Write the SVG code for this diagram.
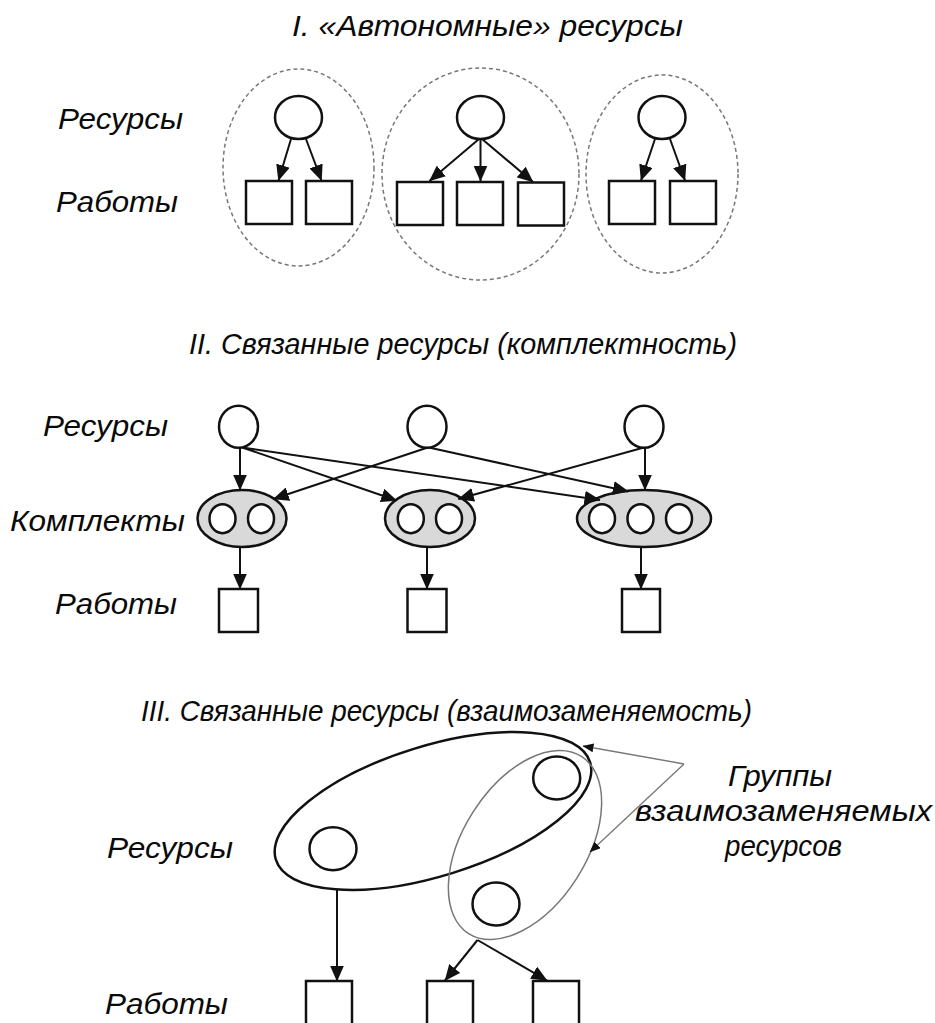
<svg xmlns="http://www.w3.org/2000/svg" width="935" height="1023" viewBox="0 0 935 1023">
<defs>
<marker id="arr" markerUnits="userSpaceOnUse" markerWidth="16" markerHeight="14" viewBox="0 0 16 14" refX="15.5" refY="7" orient="auto"><path d="M0,0 L16,7 L0,14 z" fill="#111"/></marker>
<marker id="arrS" markerUnits="userSpaceOnUse" markerWidth="11" markerHeight="9" viewBox="0 0 11 9" refX="10.5" refY="4.5" orient="auto"><path d="M0,0 L11,4.5 L0,9 z" fill="#111"/></marker>
</defs>
<style>
.t{font-family:"Liberation Sans",Arial,sans-serif;font-style:italic;fill:#0a0a0a;font-size:30px}
.node{fill:#fff;stroke:#111;stroke-width:2.5}
.grp{fill:none;stroke:#777;stroke-width:1.5;stroke-dasharray:4 3}
.kit{fill:#d9d9d9;stroke:#111;stroke-width:2.5}
.big{fill:none;stroke:#111;stroke-width:2.5}
.thin{fill:none;stroke:#777;stroke-width:1.5}
.edge{stroke:#111;stroke-width:2;fill:none;marker-end:url(#arr)}
.note{stroke:#777;stroke-width:1.3;fill:none;marker-end:url(#arrS)}
</style>
<rect x="0" y="0" width="935" height="1023" fill="#fff"/>

<g id="titles">
<text class="t" x="292" y="36" textLength="391" lengthAdjust="spacingAndGlyphs">I. «Автономные» ресурсы</text>
<text class="t" x="189" y="354" textLength="548" lengthAdjust="spacingAndGlyphs">II. Связанные ресурсы (комплектность)</text>
<text class="t" x="141" y="721" textLength="611" lengthAdjust="spacingAndGlyphs">III. Связанные ресурсы (взаимозаменяемость)</text>
</g>

<g id="labels">
<text class="t" x="58" y="129" textLength="125" lengthAdjust="spacingAndGlyphs">Ресурсы</text>
<text class="t" x="56" y="212" textLength="122" lengthAdjust="spacingAndGlyphs">Работы</text>
<text class="t" x="43" y="436" textLength="125" lengthAdjust="spacingAndGlyphs">Ресурсы</text>
<text class="t" x="10" y="531" textLength="175" lengthAdjust="spacingAndGlyphs">Комплекты</text>
<text class="t" x="55" y="614" textLength="122" lengthAdjust="spacingAndGlyphs">Работы</text>
<text class="t" x="107" y="858" textLength="126" lengthAdjust="spacingAndGlyphs">Ресурсы</text>
<text class="t" x="105" y="1014" textLength="123" lengthAdjust="spacingAndGlyphs">Работы</text>
<text class="t" x="728" y="786" textLength="104" lengthAdjust="spacingAndGlyphs">Группы</text>
<text class="t" x="635" y="821" textLength="297" lengthAdjust="spacingAndGlyphs">взаимозаменяемых</text>
<text class="t" x="725" y="856" textLength="117" lengthAdjust="spacingAndGlyphs">ресурсов</text>
</g>

<!-- Section I -->
<g id="group1">
<ellipse class="grp" cx="298.5" cy="167.5" rx="75.5" ry="98.5"/>
<ellipse class="node" cx="298.5" cy="117.5" rx="23.5" ry="21.5"/>
<rect class="node" x="246" y="181" width="46" height="43"/>
<rect class="node" x="306" y="181" width="46" height="43"/>
</g>
<g id="group2">
<ellipse class="grp" cx="480.5" cy="174" rx="98.5" ry="106"/>
<ellipse class="node" cx="480.5" cy="117.5" rx="23.5" ry="21.5"/>
<rect class="node" x="397" y="182" width="46" height="43"/>
<rect class="node" x="457" y="182" width="46" height="43"/>
<rect class="node" x="518" y="182.5" width="46" height="43"/>
</g>
<g id="group3">
<ellipse class="grp" cx="662" cy="174" rx="76" ry="99"/>
<ellipse class="node" cx="662" cy="117.5" rx="23.5" ry="21.5"/>
<rect class="node" x="609" y="181" width="46" height="43"/>
<rect class="node" x="670" y="181" width="46" height="43"/>
</g>

<!-- Section II -->
<g id="res2-1"><ellipse class="node" cx="238.5" cy="426.7" rx="19.5" ry="21"/></g>
<g id="res2-2"><ellipse class="node" cx="427" cy="426.7" rx="19.5" ry="21"/></g>
<g id="res2-3"><ellipse class="node" cx="644" cy="426.7" rx="19.5" ry="21"/></g>
<g id="kit2-1">
<ellipse class="kit" cx="242" cy="518.5" rx="44.5" ry="28.5"/>
<ellipse class="node" cx="222.5" cy="518.7" rx="13" ry="14.5"/>
<ellipse class="node" cx="261" cy="518.7" rx="13" ry="14.5"/>
</g>
<g id="kit2-2">
<ellipse class="kit" cx="430" cy="518.5" rx="45" ry="28.5"/>
<ellipse class="node" cx="410.8" cy="518.7" rx="13" ry="14.5"/>
<ellipse class="node" cx="449" cy="518.7" rx="13" ry="14.5"/>
</g>
<g id="kit2-3">
<ellipse class="kit" cx="644" cy="518.5" rx="67" ry="28.5"/>
<ellipse class="node" cx="602" cy="518.7" rx="13" ry="14.5"/>
<ellipse class="node" cx="640.5" cy="518.7" rx="13" ry="14.5"/>
<ellipse class="node" cx="679" cy="518.7" rx="13" ry="14.5"/>
</g>
<g id="work2-1"><rect class="node" x="219" y="589" width="39" height="43"/></g>
<g id="work2-2"><rect class="node" x="407.5" y="589" width="39" height="43"/></g>
<g id="work2-3"><rect class="node" x="622" y="589" width="38" height="43"/></g>

<!-- Section III -->
<g id="group-big"><ellipse class="big" cx="433" cy="811" rx="164.5" ry="65" transform="rotate(-17.2 433 811)"/></g>
<g id="group-gray"><ellipse class="thin" cx="525" cy="845" rx="105" ry="61.5" transform="rotate(-57.5 525 845)"/></g>
<g id="res3-1"><ellipse class="node" cx="333" cy="848.7" rx="23.5" ry="21.5"/></g>
<g id="res3-2"><ellipse class="node" cx="556.7" cy="778" rx="23.5" ry="21.5"/></g>
<g id="res3-3"><ellipse class="node" cx="496" cy="904" rx="23.5" ry="21.5"/></g>
<g id="work3-1"><rect class="node" x="306" y="981" width="46" height="50"/></g>
<g id="work3-2"><rect class="node" x="427" y="981" width="46" height="50"/></g>
<g id="work3-3"><rect class="node" x="533" y="981" width="46" height="50"/></g>

<g id="connectors">
<line class="edge" x1="291" y1="139" x2="278.5" y2="180.5"/>
<line class="edge" x1="306" y1="139" x2="321.5" y2="180.5"/>
<line class="edge" x1="479" y1="139" x2="429.5" y2="181"/>
<line class="edge" x1="480.5" y1="139" x2="480.5" y2="181"/>
<line class="edge" x1="482" y1="139" x2="533" y2="182"/>
<line class="edge" x1="655" y1="139" x2="641" y2="180.5"/>
<line class="edge" x1="670" y1="139" x2="685" y2="180.5"/>

<line class="edge" x1="240" y1="447.7" x2="240" y2="490"/>
<line class="edge" x1="243" y1="447.7" x2="396.7" y2="500.5"/>
<line class="edge" x1="244" y1="447.7" x2="600" y2="500"/>
<line class="edge" x1="427" y1="447.7" x2="273.3" y2="499"/>
<line class="edge" x1="430" y1="447.7" x2="628.3" y2="491.5"/>
<line class="edge" x1="643" y1="447.7" x2="458.3" y2="499"/>
<line class="edge" x1="645" y1="447.7" x2="645" y2="490"/>
<line class="edge" x1="240" y1="547" x2="240" y2="589"/>
<line class="edge" x1="427" y1="547" x2="427" y2="589"/>
<line class="edge" x1="641" y1="547" x2="641" y2="589"/>

<line class="edge" x1="337" y1="889" x2="337" y2="981"/>
<line class="edge" x1="477.5" y1="940" x2="445" y2="980.5"/>
<line class="edge" x1="477.5" y1="940" x2="547" y2="980.5"/>

<line class="note" x1="684" y1="764" x2="583" y2="746"/>
<line class="note" x1="684" y1="764" x2="590" y2="852"/>
</g>
</svg>
